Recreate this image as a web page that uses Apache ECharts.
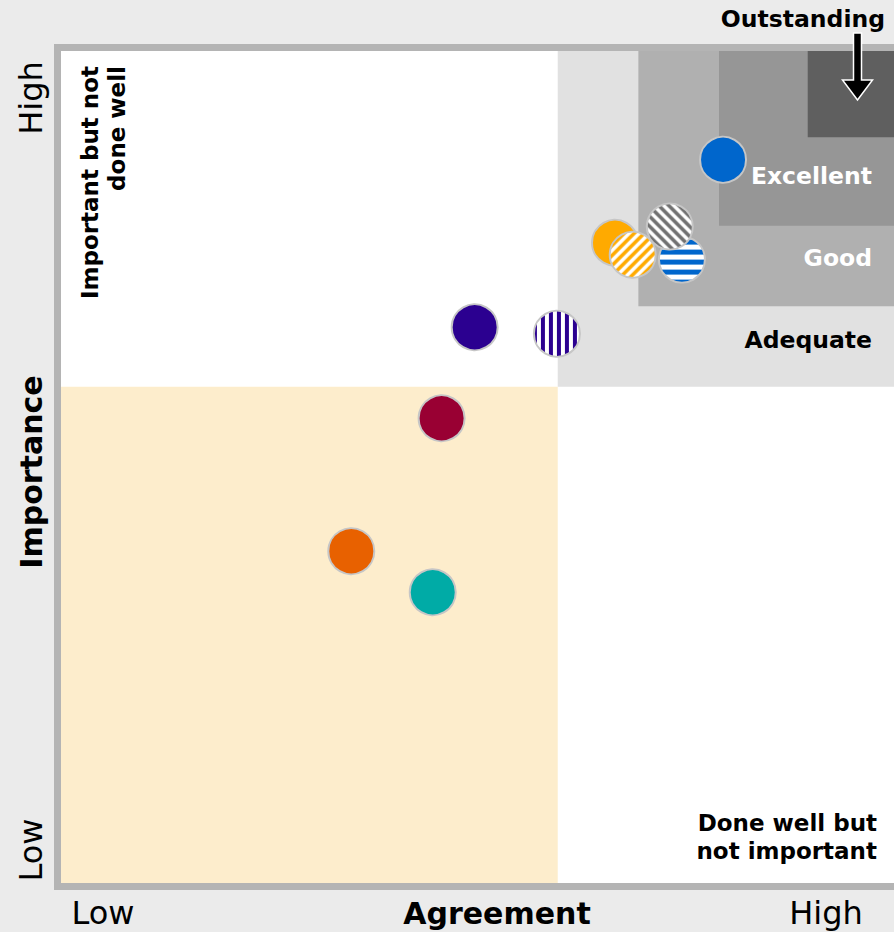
<!DOCTYPE html>
<html>
<head>
<meta charset="utf-8">
<script src="https://cdn.jsdelivr.net/npm/echarts@6/dist/echarts.min.js"></script>
<style>
  html, body { margin: 0; padding: 0; background: #ebebeb; }
  #chart { width: 894px; height: 932px; }
</style>
</head>
<body>
<div id="chart"></div>
<script>
// scale runs slightly past 0..100
var axisMin = -1.6, axisMax = 101.7;
var quadrantSplit = 60;
var bandNames = ['Adequate', 'Good', 'Excellent', 'Outstanding'];
var bandStarts = [60, 70, 80, 91];

// points, drawn in this order (later ones on top)
var agreement  = [80.5, 67.1, 69.3, 75.4, 73.9, 49.7, 59.9, 45.6, 34.4, 44.5];
var importance = [88.2, 77.9, 76.4, 75.8, 79.9, 67.4, 66.6, 56.1, 39.6, 34.5];
var fillColors = ['#0066cc', '#ffaa00', '#ffaa00', '#0066cc', '#707070', '#2b0090', '#2b0090', '#990033', '#e86100', '#00aba6'];
var fillKinds  = ['solid', 'solid', 'diagUp', 'horiz', 'diagDown', 'solid', 'vert', 'solid', 'solid', 'solid'];

var SYMBOL = 46;

// striped fill; symbol paths are scaled by size/2 so undo that on the pattern
function stripes(color, kind) {
  var n = kind === 'vert' ? 8 : 10;
  var c = document.createElement('canvas');
  c.width = n; c.height = n;
  var g = c.getContext('2d');
  g.fillStyle = '#fff';
  g.fillRect(0, 0, n, n);
  g.fillStyle = color;
  g.strokeStyle = color;
  if (kind === 'horiz') {
    g.fillRect(0, 0, n, 5);
  } else if (kind === 'vert') {
    g.fillRect(0, 0, 4, n);
  } else {
    g.lineWidth = 3.6;
    g.beginPath();
    if (kind === 'diagUp') {
      g.moveTo(-n, n); g.lineTo(n, -n);
      g.moveTo(-1, n + 1); g.lineTo(n + 1, -1);
      g.moveTo(0, 2 * n); g.lineTo(2 * n, 0);
    } else {
      g.moveTo(0, -n); g.lineTo(2 * n, n);
      g.moveTo(-1, -1); g.lineTo(n + 1, n + 1);
      g.moveTo(-n, 0); g.lineTo(n, 2 * n);
    }
    g.stroke();
  }
  var k = 2 / SYMBOL;
  return { image: c, repeat: 'repeat', scaleX: k, scaleY: k };
}

var points = agreement.map(function (x, i) {
  var kind = fillKinds[i];
  return {
    value: [x, importance[i]],
    itemStyle: { color: kind === 'solid' ? fillColors[i] : stripes(fillColors[i], kind) }
  };
});

var bandColors = ['#e1e1e1', '#b0b0b0', '#969696', '#5f5f5f'];
var areas = [[
  { xAxis: axisMin, yAxis: axisMin, itemStyle: { color: '#fdedcc' } },
  { xAxis: quadrantSplit, yAxis: quadrantSplit }
]];
bandStarts.forEach(function (s, i) {
  areas.push([
    { xAxis: s, yAxis: s, itemStyle: { color: bandColors[i] } },
    { xAxis: axisMax, yAxis: axisMax }
  ]);
});

var chart = echarts.init(document.getElementById('chart'), null, { renderer: 'svg' });

var bold = function (size) { return 'bold ' + size + 'px "DejaVu Sans", sans-serif'; };
var reg = function (size) { return size + 'px "DejaVu Sans", sans-serif'; };
var R90 = Math.PI / 2;

var option = {
  backgroundColor: '#ebebeb',
  animation: false,
  grid: { left: 61, right: 0, top: 51, bottom: 49, show: true, backgroundColor: '#fff', borderWidth: 0 },
  xAxis: { type: 'value', min: axisMin, max: axisMax, show: false },
  yAxis: { type: 'value', min: axisMin, max: axisMax, show: false },
  series: [{
    type: 'scatter',
    symbolSize: SYMBOL,
    itemStyle: { borderColor: '#c6c6c6', borderWidth: 2, opacity: 1 },
    emphasis: { disabled: true },
    data: points,
    markArea: { silent: true, label: { show: false }, data: areas }
  }],
  graphic: [
    // frame
    { type: 'rect', shape: { x: 54, y: 44, width: 7, height: 846 }, style: { fill: '#b4b4b4' } },
    { type: 'rect', shape: { x: 54, y: 44, width: 840, height: 7 }, style: { fill: '#b4b4b4' } },
    { type: 'rect', shape: { x: 54, y: 883, width: 840, height: 7 }, style: { fill: '#b4b4b4' } },
    // arrow to outstanding box
    { type: 'polygon', z: 100,
      shape: { points: [[853.5, 33], [861.5, 33], [861.5, 80], [872.5, 80], [857.5, 100], [842.5, 80], [853.5, 80]] },
      style: { fill: '#000', stroke: '#fff', lineWidth: 1.5 } },
    { type: 'text', z: 100, style: { text: 'Outstanding', x: 885, y: 19, align: 'right', verticalAlign: 'middle', font: bold(23.5), fill: '#000' } },
    { type: 'text', z: 100, style: { text: 'Excellent', x: 872, y: 176, align: 'right', verticalAlign: 'middle', font: bold(23.5), fill: '#fff' } },
    { type: 'text', z: 100, style: { text: 'Good', x: 872, y: 258, align: 'right', verticalAlign: 'middle', font: bold(23.5), fill: '#fff' } },
    { type: 'text', z: 100, style: { text: 'Adequate', x: 872, y: 340, align: 'right', verticalAlign: 'middle', font: bold(23.5), fill: '#000' } },
    { type: 'text', z: 100, style: { text: 'Done well but\nnot important', x: 877, y: 837, align: 'right', verticalAlign: 'middle', font: bold(23), lineHeight: 28, fill: '#000' } },
    { type: 'text', z: 100, x: 103.5, y: 66, rotation: R90,
      style: { text: 'Important but not\ndone well', align: 'right', verticalAlign: 'middle', font: bold(23), lineHeight: 27, fill: '#000' } },
    // axis words
    { type: 'text', x: 31, y: 98, rotation: R90, style: { text: 'High', align: 'center', verticalAlign: 'middle', font: reg(32), fill: '#000' } },
    { type: 'text', x: 31, y: 850, rotation: R90, style: { text: 'Low', align: 'center', verticalAlign: 'middle', font: reg(32), fill: '#000' } },
    { type: 'text', x: 31, y: 472, rotation: R90, style: { text: 'Importance', align: 'center', verticalAlign: 'middle', font: bold(30), fill: '#000' } },
    { type: 'text', style: { text: 'Low', x: 103, y: 913, align: 'center', verticalAlign: 'middle', font: reg(32), fill: '#000' } },
    { type: 'text', style: { text: 'Agreement', x: 497, y: 913, align: 'center', verticalAlign: 'middle', font: bold(30), fill: '#000' } },
    { type: 'text', style: { text: 'High', x: 826, y: 913, align: 'center', verticalAlign: 'middle', font: reg(32), fill: '#000' } }
  ]
};

chart.setOption(option);
</script>
</body>
</html>
